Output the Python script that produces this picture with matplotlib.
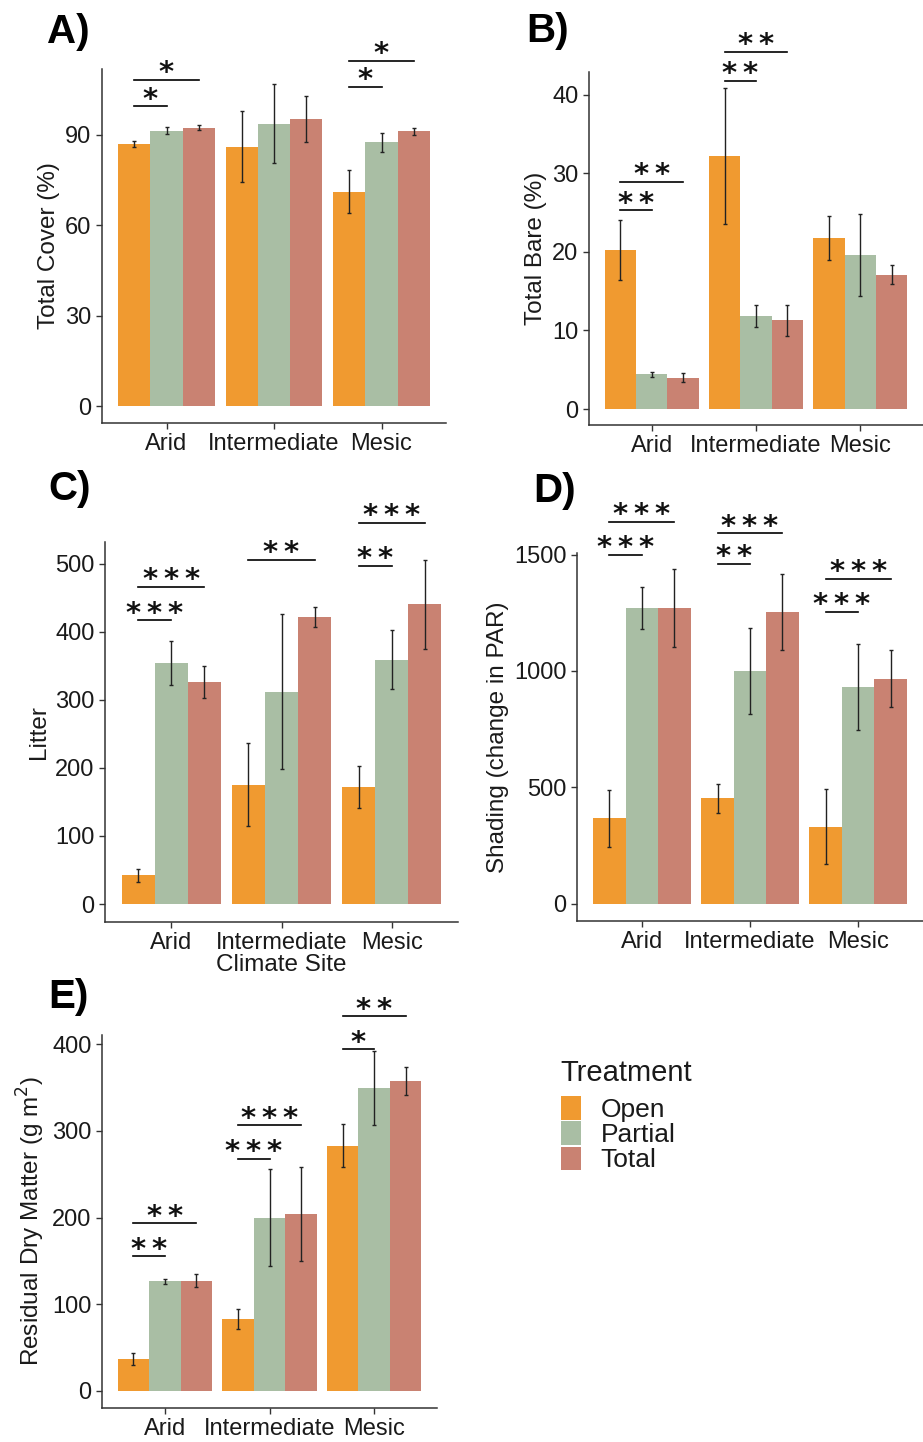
import numpy as np
import matplotlib
matplotlib.use("Agg")
import matplotlib.pyplot as plt
from matplotlib.patches import Patch

plt.rcParams["font.family"] = ["Liberation Sans", "DejaVu Sans"]

sites = ["Arid", "Intermediate", "Mesic"]
treatments = ["Open", "Partial", "Total"]
colors = ["#F09A30", "#A9BEA4", "#C98272"]

# means / standard errors per treatment, ordered Arid, Intermediate, Mesic
cover_mean = {"Open": [87.1, 86.0, 71.2], "Partial": [91.4, 93.7, 87.5], "Total": [92.3, 95.3, 91.1]}
cover_se = {"Open": [1.0, 11.8, 7.0], "Partial": [1.2, 13.1, 3.2], "Total": [0.8, 7.7, 1.3]}

bare_mean = {"Open": [20.2, 32.2, 21.8], "Partial": [4.4, 11.8, 19.6], "Total": [4.0, 11.3, 17.1]}
bare_se = {"Open": [3.8, 8.7, 2.8], "Partial": [0.35, 1.4, 5.2], "Total": [0.55, 2.0, 1.2]}

litter_mean = {"Open": [42, 175, 172], "Partial": [354, 312, 359], "Total": [326, 422, 440]}
litter_se = {"Open": [9, 61, 31], "Partial": [32, 114, 43], "Total": [23, 15, 66]}

shade_mean = {"Open": [366, 452, 330], "Partial": [1270, 1000, 930], "Total": [1270, 1253, 966]}
shade_se = {"Open": [124, 61, 161], "Partial": [90, 183, 184], "Total": [168, 165, 123]}

rdm_mean = {"Open": [36.5, 82.7, 283], "Partial": [126.2, 200, 349.6], "Total": [127, 203.8, 358]}
rdm_se = {"Open": [7.3, 12, 25], "Partial": [2.7, 56, 43], "Total": [7.3, 54, 16]}

# significance brackets: (site index, compared treatment, height, stars); always vs Open
cover_sig = [(0, "Partial", 99.4, 1), (0, "Total", 108.2, 1),
             (2, "Partial", 105.9, 1), (2, "Total", 114.5, 1)]
bare_sig = [(0, "Partial", 25.3, 2), (0, "Total", 28.9, 2),
            (1, "Partial", 41.8, 2), (1, "Total", 45.5, 2)]
litter_sig = [(0, "Partial", 416.7, 3), (0, "Total", 465.7, 3),
              (1, "Total", 505.9, 2), (2, "Partial", 496.6, 2),
              (2, "Total", 560.3, 3)]
shade_sig = [(0, "Partial", 1498, 3), (0, "Total", 1640, 3),
             (1, "Partial", 1460, 2), (1, "Total", 1592, 3),
             (2, "Partial", 1254, 3), (2, "Total", 1397, 3)]
rdm_sig = [(0, "Partial", 155.4, 2), (0, "Total", 193.5, 2),
           (1, "Partial", 268, 3), (1, "Total", 306.5, 3),
           (2, "Partial", 394.2, 1), (2, "Total", 432.3, 2)]

W, H = 923, 1442
fig = plt.figure(figsize=(W / 100, H / 100), dpi=100)


def px_axes(l, t, r, b):
    return fig.add_axes([l / W, 1 - b / H, (r - l) / W, (b - t) / H])


bw = 0.3
x = np.arange(3)
offsets = {"Open": -bw, "Partial": 0.0, "Total": bw}
TXT = "#1a1a1a"


def panel(ax, means, ses, sigs, ylim, yticks, ylabel, letter, lpos):
    for tr, c in zip(treatments, colors):
        xs = x + offsets[tr]
        ax.bar(xs, means[tr], width=bw, color=c, zorder=1)
        ax.errorbar(xs, means[tr], yerr=ses[tr], fmt="none", ecolor="#222222",
                    elinewidth=1.0, capsize=1.5, capthick=1.0, zorder=2)
    for site, tr, yv, n in sigs:
        x0 = site + offsets["Open"]
        x1 = site + offsets[tr]
        ax.plot([x0, x1], [yv, yv], color="black", lw=1.2, clip_on=False)
        ax.annotate("\u2009".join("*" * n), ((x0 + x1) / 2, yv), xytext=(0, -1),
                    textcoords="offset points", ha="center", va="baseline",
                    fontsize=21, family="DejaVu Sans", fontweight="bold",
                    color="#111111", annotation_clip=False)
    ax.set_xlim(-0.6, 2.6)
    ax.set_ylim(*ylim)
    ax.set_yticks(yticks)
    ax.set_xticks(x)
    ax.set_xticklabels(sites)
    ax.tick_params(labelsize=17, colors="#333333", labelcolor=TXT, length=4, width=1)
    for s in ["top", "right"]:
        ax.spines[s].set_visible(False)
    for s in ["left", "bottom"]:
        ax.spines[s].set_color("#333333")
        ax.spines[s].set_linewidth(1.1)
    ax.set_ylabel(ylabel, fontsize=17.5, color=TXT)
    fig.text(lpos[0] / W, 1 - lpos[1] / H, letter, fontsize=29, fontweight="bold",
             ha="left", va="baseline")


axA = px_axes(102, 69, 446, 423)
panel(axA, cover_mean, cover_se, cover_sig, (-5.5, 111.8), [0, 30, 60, 90],
      "Total Cover (%)", "A)", (47, 43))

axB = px_axes(589, 72, 923, 425)
panel(axB, bare_mean, bare_se, bare_sig, (-2.03, 42.9), [0, 10, 20, 30, 40],
      "Total Bare (%)", "B)", (526, 42))

axC = px_axes(105, 542, 458, 922)
panel(axC, litter_mean, litter_se, litter_sig, (-26.4, 531.8), [0, 100, 200, 300, 400, 500],
      "Litter", "C)", (48, 500))
axC.set_xlabel("Climate Site", fontsize=17.5, color=TXT, labelpad=0)

axD = px_axes(577, 553, 923, 921)
panel(axD, shade_mean, shade_se, shade_sig, (-75, 1507), [0, 500, 1000, 1500],
      "Shading (change in PAR)", "D)", (533, 502))

axE = px_axes(102, 1035, 437, 1408)
panel(axE, rdm_mean, rdm_se, rdm_sig, (-20, 410.8), [0, 100, 200, 300, 400],
      "Residual Dry Matter (g m$^2$)", "E)", (48, 1008))

fig.text(560 / W, 1 - 1081 / H, "Treatment", fontsize=21, color=TXT, ha="left", va="baseline")
handles = [Patch(facecolor=c, edgecolor="none") for c in colors]
leg = fig.legend(handles, treatments, loc="upper left", bbox_to_anchor=(561 / W, 1 - 1096 / H),
                 frameon=False, fontsize=19, handlelength=0.75, handleheight=1.0,
                 labelspacing=-0.02, handletextpad=0.75, borderpad=0, borderaxespad=0)
for t in leg.get_texts():
    t.set_color(TXT)

fig.savefig("out.png", dpi=100)
